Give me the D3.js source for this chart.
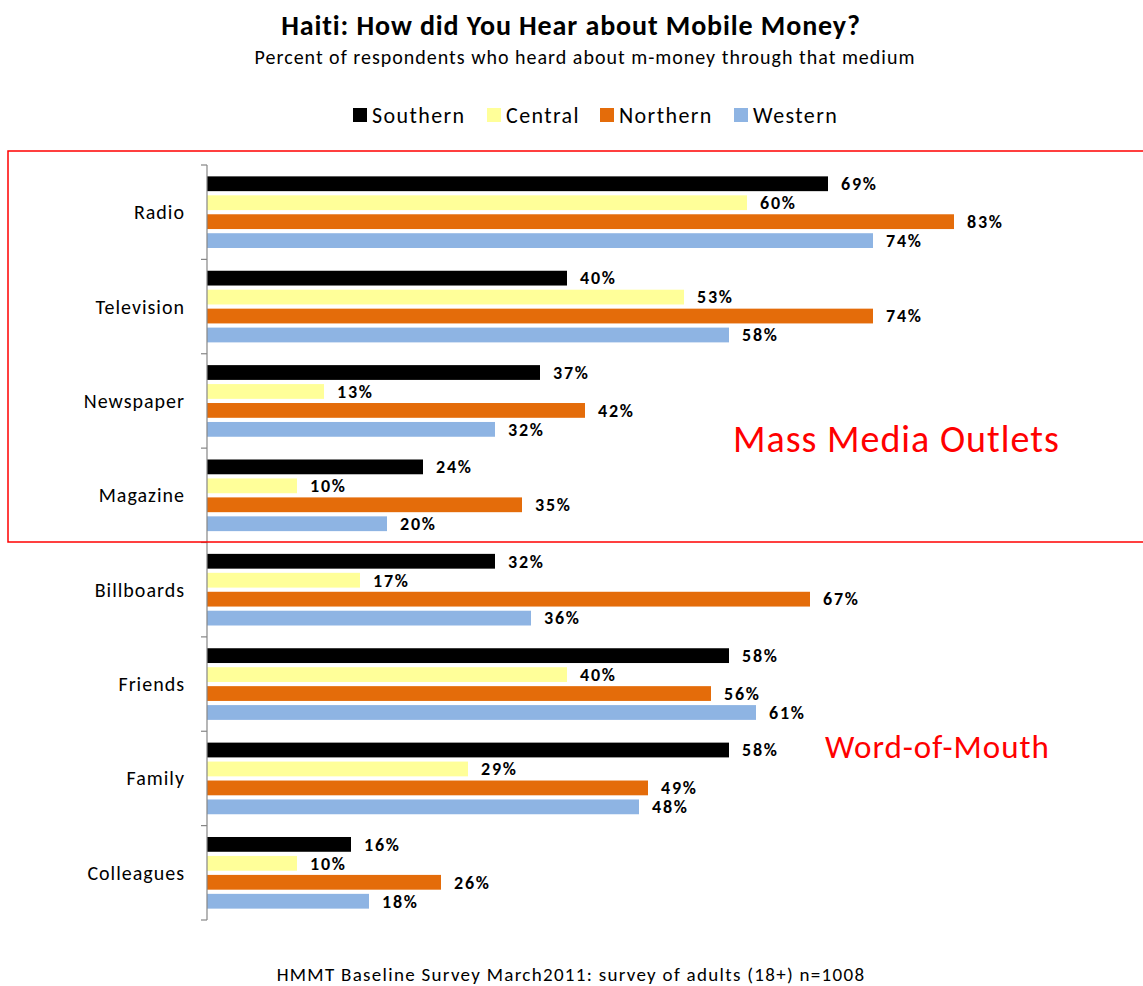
<!DOCTYPE html>
<html>
<head>
<meta charset="utf-8">
<script src="https://cdn.jsdelivr.net/npm/d3@7/dist/d3.min.js"></script>
<style>
  html, body { margin: 0; padding: 0; background: #fff; }
  svg { display: block; }
  text { font-family: Carlito, Calibri, Lato, "Open Sans", sans-serif; }
</style>
</head>
<body>
<svg id="chart" width="1143" height="986"></svg>
<script>
// Media channels (top to bottom) and the four regions
const categories = ["Radio", "Television", "Newspaper", "Magazine", "Billboards", "Friends", "Family", "Colleagues"];
const seriesNames = ["Southern", "Central", "Northern", "Western"];
const seriesColors = ["#000000", "#FFFF99", "#E46C0A", "#8EB4E3"];

// Percent of respondents per channel, one array per region
const southern = [69, 40, 37, 24, 32, 58, 58, 16];
const central  = [60, 53, 13, 10, 17, 40, 29, 10];
const northern = [83, 74, 42, 35, 67, 56, 49, 26];
const western  = [74, 58, 32, 20, 36, 61, 48, 18];
const seriesValues = [southern, central, northern, western];

const svg = d3.select("#chart");

// Scales
const x = d3.scaleLinear().domain([0, 100]).range([207, 1107]);
const y = d3.scaleBand().domain(categories).range([165, 920]).paddingInner(0).paddingOuter(0);
const ySub = d3.scaleBand().domain(seriesNames).range([0, y.bandwidth()])
  .paddingInner(0.22).paddingOuter(0.6);

// Titles
svg.append("text").attr("x", 571).attr("y", 35).attr("text-anchor", "middle")
  .attr("font-size", 28).attr("font-weight", "bold").attr("letter-spacing", 0.9)
  .attr("fill", "#000")
  .text("Haiti: How did You Hear about Mobile Money?");
svg.append("text").attr("x", 585).attr("y", 64).attr("text-anchor", "middle")
  .attr("font-size", 20).attr("letter-spacing", 1).attr("fill", "#000")
  .text("Percent of respondents who heard about m-money through that medium");

// Legend
const legendX = [353, 487, 600, 734];
const legend = svg.append("g");
seriesNames.forEach((name, i) => {
  const g = legend.append("g").attr("transform", `translate(${legendX[i]},115)`);
  g.append("rect").attr("x", 0).attr("y", -7).attr("width", 14).attr("height", 14)
    .attr("fill", seriesColors[i]);
  g.append("text").attr("x", 19).attr("y", 0).attr("dy", "0.35em")
    .attr("font-size", 22).attr("letter-spacing", 1.4).attr("fill", "#000").text(name);
});

// Bars
const groups = svg.append("g").selectAll("g.cat")
  .data(categories)
  .join("g").attr("class", "cat")
  .attr("transform", d => `translate(0,${y(d)})`);

groups.each(function(cat, ci) {
  const g = d3.select(this);
  seriesNames.forEach((s, si) => {
    const v = seriesValues[si][ci];
    g.append("rect")
      .attr("x", x(0)).attr("y", ySub(s))
      .attr("width", x(v) - x(0)).attr("height", ySub.bandwidth())
      .attr("fill", seriesColors[si]);
    g.append("text")
      .attr("x", x(v) + 13).attr("y", ySub(s) + ySub.bandwidth() / 2)
      .attr("dy", "0.35em").attr("font-size", 18).attr("font-weight", "bold")
      .attr("letter-spacing", 1.8).attr("fill", "#000").text(v + "%");
  });
});

// Category axis: line, boundary ticks, labels
const axisG = svg.append("g");
axisG.append("line").attr("x1", x(0)).attr("x2", x(0))
  .attr("y1", y.range()[0]).attr("y2", y.range()[1])
  .attr("stroke", "#868686").attr("stroke-width", 1.2);
const bounds = categories.map(c => y(c)).concat([y.range()[1]]);
axisG.selectAll("line.tick").data(bounds).join("line").attr("class", "tick")
  .attr("x1", x(0) - 6).attr("x2", x(0)).attr("y1", d => d).attr("y2", d => d)
  .attr("stroke", "#868686").attr("stroke-width", 1.2);
axisG.selectAll("text.cat").data(categories).join("text").attr("class", "cat")
  .attr("x", 185).attr("y", d => y(d) + y.bandwidth() / 2).attr("dy", "0.35em")
  .attr("text-anchor", "end").attr("font-size", 20).attr("letter-spacing", 1)
  .attr("fill", "#000").text(d => d);

// Grouping annotations
svg.append("rect").attr("x", 8).attr("y", 151).attr("width", 1160).attr("height", 391)
  .attr("fill", "none").attr("stroke", "#FF0000").attr("stroke-width", 1.5);
svg.append("text").attr("x", 733).attr("y", 452).attr("font-size", 38).attr("letter-spacing", 1)
  .attr("fill", "#FF0000").text("Mass Media Outlets");
svg.append("text").attr("x", 825).attr("y", 758).attr("font-size", 33).attr("letter-spacing", 1)
  .attr("fill", "#FF0000").text("Word-of-Mouth");

// Source note
svg.append("text").attr("x", 571).attr("y", 981).attr("text-anchor", "middle")
  .attr("font-size", 19).attr("letter-spacing", 1.3).attr("fill", "#000")
  .text("HMMT Baseline Survey March2011: survey of adults (18+) n=1008");
</script>
</body>
</html>
